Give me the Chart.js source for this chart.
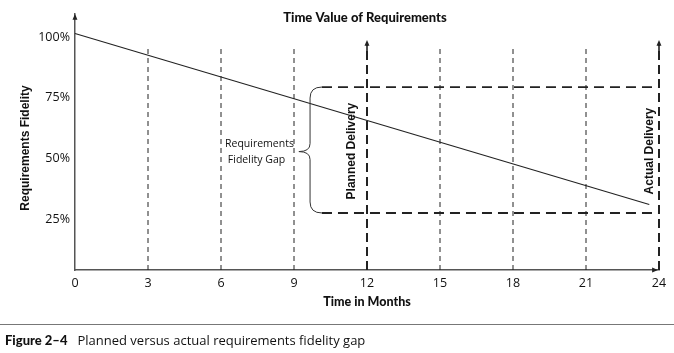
<!DOCTYPE html>
<html><head><meta charset="utf-8">
<script src="https://cdn.jsdelivr.net/npm/chart.js@4"></script>
<style>
html,body{margin:0;padding:0;background:#fff;}
#wrap{position:absolute;left:0;top:0;width:674px;height:353px;}
#rule{position:absolute;left:0;top:324px;width:674px;height:0;border-top:1.5px solid #777;}
#cap{position:absolute;left:5px;top:331px;font-family:'Open Sans',sans-serif;font-size:13px;color:#111;white-space:nowrap;line-height:18px;}
#cap b{font-family:'Lato',sans-serif;font-weight:900;margin-right:10px;}
</style></head><body>
<div id="wrap"><canvas id="c" width="674" height="353"></canvas></div>
<div id="rule"></div>
<div id="cap"><b>Figure 2–4</b>Planned versus actual requirements fidelity gap</div>
<script>
// ---- data ----
const monthTicks = [0, 3, 6, 9, 12, 15, 18, 21, 24];
const fidelityTicks = [25, 50, 75, 100];
const fidelityMonths = [0, 23.6];
const fidelityValues = [101.5, 31];
const guideMonths = [3, 6, 9, 15, 18, 21];
const guideTop = 96.7;
const deliveryMonths = [12, 24];
const deliveryTop = 98.8;
const deliveryLabels = ['Planned Delivery', 'Actual Delivery'];
const deliveryLabelMonths = [11.38, 23.6];
const deliveryLabelValue = 53;
const gapRange = [27.5, 79.4];   // bottom, top of the fidelity gap
const gapMonths = [10.15, 24];   // start, end of the gap box
const braceMonths = [9.66, 9.2]; // brace stem, brace tip
const gapLabelLines = ['Requirements', 'Fidelity Gap'];
const gapLabelMonths = [7.58, 7.46];
const gapLabelValues = [56, 49.4];
const axisRange = [4, 109.5];
const chartTitle = 'Time Value of Requirements';
const xTitle = 'Time in Months';
const yTitle = 'Requirements Fidelity';

const INK = '#222';
const datasets = [];
datasets.push({data: fidelityMonths.map((m,i)=>({x:m,y:fidelityValues[i]})), borderColor: INK, borderWidth: 1.1});
guideMonths.forEach(m => datasets.push({data:[{x:m,y:axisRange[0]},{x:m,y:guideTop}], borderColor:'#222', borderWidth:1, borderDash:[5,4]}));
deliveryMonths.forEach(m => datasets.push({data:[{x:m,y:axisRange[0]},{x:m,y:deliveryTop-1.2}], borderColor:INK, borderWidth:2, borderDash:[9,5]}));
gapRange.forEach(v => datasets.push({data:[{x:gapMonths[0],y:v},{x:gapMonths[1],y:v}], borderColor:INK, borderWidth:1.8, borderDash:[10,6]}));
datasets.forEach(d => { d.showLine = true; d.pointRadius = 0; d.fill = false; d.clip = false; d.tension = 0; });

function arrow(ctx, x, y, dir, s) {
  ctx.beginPath();
  if (dir === 'up') { ctx.moveTo(x, y); ctx.lineTo(x - s*0.55, y + s*1.3); ctx.lineTo(x + s*0.55, y + s*1.3); }
  else { ctx.moveTo(x, y); ctx.lineTo(x - s*1.3, y - s*0.55); ctx.lineTo(x - s*1.3, y + s*0.55); }
  ctx.closePath(); ctx.fill();
}

const extras = {
  id: 'extras',
  afterDatasetsDraw(chart) {
    const {ctx, scales:{x, y}, chartArea:a} = chart;
    ctx.save();
    ctx.fillStyle = INK; ctx.strokeStyle = INK;
    // axis arrows
    arrow(ctx, a.left, a.top, 'up', 4.5);
    arrow(ctx, x.getPixelForValue(24) - 1, a.bottom, 'right', 4.5);
    deliveryMonths.forEach(m => {
      const px = x.getPixelForValue(m);
      arrow(ctx, px, y.getPixelForValue(deliveryTop), 'up', 4.5);
      ctx.lineWidth = 1.6;
      ctx.beginPath(); ctx.moveTo(px, y.getPixelForValue(deliveryTop)+4); ctx.lineTo(px, y.getPixelForValue(deliveryTop)+12); ctx.stroke();
    });
    // brace
    const bx = x.getPixelForValue(braceMonths[0]);
    const tx = x.getPixelForValue(braceMonths[1]);
    const sx = x.getPixelForValue(gapMonths[0]);
    const top = y.getPixelForValue(gapRange[1]);
    const bot = y.getPixelForValue(gapRange[0]);
    const mid = y.getPixelForValue(gapLabelValues[0] - 3.2);
    ctx.lineWidth = 1; ctx.strokeStyle = '#333';
    ctx.beginPath();
    ctx.moveTo(sx, top);
    ctx.quadraticCurveTo(bx, top, bx, top + 11);
    ctx.lineTo(bx, mid - 8);
    ctx.quadraticCurveTo(bx, mid, tx, mid);
    ctx.quadraticCurveTo(bx, mid, bx, mid + 8);
    ctx.lineTo(bx, bot - 11);
    ctx.quadraticCurveTo(bx, bot, sx, bot);
    ctx.stroke();
    // gap label
    ctx.fillStyle = '#111';
    ctx.font = '10.5px "Open Sans"';
    ctx.textAlign = 'center'; ctx.textBaseline = 'middle';
    gapLabelLines.forEach((t,i) => ctx.fillText(t, x.getPixelForValue(gapLabelMonths[i]), y.getPixelForValue(gapLabelValues[i])));
    // delivery labels
    ctx.font = 'bold 12px "Liberation Sans"';
    ctx.textAlign = 'center';
    deliveryLabels.forEach((t,i) => {
      ctx.save();
      ctx.translate(x.getPixelForValue(deliveryLabelMonths[i]), y.getPixelForValue(deliveryLabelValue));
      ctx.rotate(-Math.PI/2);
      ctx.fillText(t, 0, 0);
      ctx.restore();
    });
    // titles
    ctx.font = '900 13px Lato';
    ctx.fillText(chartTitle, 365, 18);
    ctx.font = '900 12.5px Lato';
    ctx.fillText(xTitle, 367, 302);
    ctx.font = 'bold 12px "Liberation Sans"';
    ctx.save(); ctx.translate(26, 148); ctx.rotate(-Math.PI/2); ctx.fillText(yTitle, 0, 0); ctx.restore();
    ctx.restore();
  }
};

new Chart(document.getElementById('c'), {
  type: 'scatter',
  data: {datasets},
  options: {
    responsive: false, animation: false,
    layout: {padding: {top: 14, right: 15, left: 0, bottom: 0}},
    plugins: {legend: {display: false}, tooltip: {enabled: false}, title: {display: false}},
    scales: {
      x: {
        type: 'linear', min: 0, max: 24,
        afterBuildTicks: s => { s.ticks = monthTicks.map(v => ({value: v})); },
        afterFit: s => { s.height = 83; },
        grid: {display: false, drawTicks: false},
        border: {color: '#555', width: 1.5},
        ticks: {color: '#111', font: {family: 'Open Sans', size: 12.5}, padding: 6, maxRotation: 0}
      },
      y: {
        min: axisRange[0], max: axisRange[1],
        afterBuildTicks: s => { s.ticks = fidelityTicks.map(v => ({value: v})); },
        afterFit: s => { s.width = 75; },
        grid: {display: false, drawTicks: false},
        border: {color: '#555', width: 1.5},
        ticks: {color: '#111', font: {family: 'Open Sans', size: 12.5}, padding: 5, callback: v => v + '%'}
      }
    }
  },
  plugins: [extras]
});
</script>
</body></html>
